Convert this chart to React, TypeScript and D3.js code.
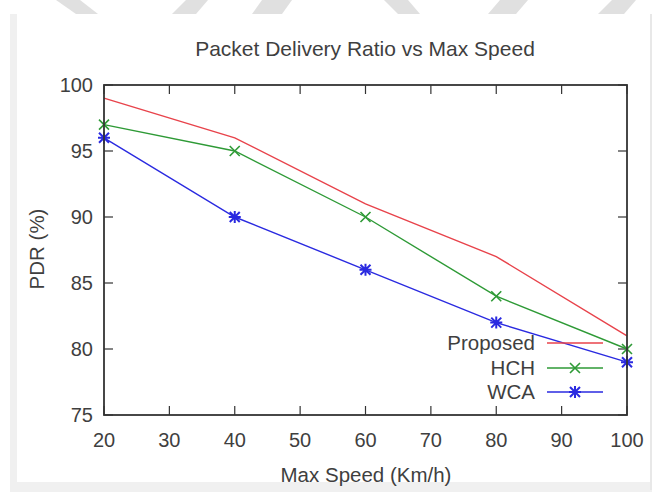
import React from "react";
import * as d3 from "d3";

const speeds = [20, 40, 60, 80, 100];
const proposed = [99, 96, 91, 87, 81];
const hch = [97, 95, 90, 84, 80];
const wca = [96, 90, 86, 82, 79];
const xTicks = [20, 30, 40, 50, 60, 70, 80, 90, 100];
const yTicks = [75, 80, 85, 90, 95, 100];

const W = 655;
const H = 494;
const M = { left: 104, right: 627, top: 85, bottom: 415 };

const FONT = "'Liberation Sans', Arial, sans-serif";
const TXT = "#3f3f3f";

const series = [
  { name: "Proposed", values: proposed, color: "#e8434b", marker: "none" },
  { name: "HCH", values: hch, color: "#2e9a36", marker: "cross" },
  { name: "WCA", values: wca, color: "#2a2ae0", marker: "star" },
];

function Marker({ type, x, y, color }: { type: string; x: number; y: number; color: string }) {
  const s = 5;
  if (type === "cross") {
    return (
      <path
        d={`M${x - s},${y - s}L${x + s},${y + s}M${x - s},${y + s}L${x + s},${y - s}`}
        stroke={color}
        strokeWidth={1.6}
      />
    );
  }
  if (type === "star") {
    return (
      <path
        d={`M${x - s},${y - s}L${x + s},${y + s}M${x - s},${y + s}L${x + s},${y - s}M${x - s - 1},${y}L${x + s + 1},${y}M${x},${y - s - 1}L${x},${y + s + 1}`}
        stroke={color}
        strokeWidth={2}
      />
    );
  }
  return null;
}

export default function App() {
  const x = d3.scaleLinear().domain([20, 100]).range([M.left, M.right]);
  const y = d3.scaleLinear().domain([75, 100]).range([M.bottom, M.top]);
  const line = d3
    .line<number>()
    .x((_, i) => x(speeds[i]))
    .y((d) => y(d));

  const tickLen = 9;
  const legendRows = [343, 368, 392];

  return (
    <svg
      width={W}
      height={H}
      style={{ position: "absolute", left: 0, top: 0, background: "#fff" }}
    >
      {/* page frame */}
      <rect x={0} y={0} width={W} height={H} fill="#fff" />
      <rect x={10} y={14} width={642} height={478} fill="#f0f0f0" />
      <rect x={17} y={14} width={633} height={468} fill="#fff" />
      <line x1={651} y1={14} x2={651} y2={490} stroke="#e6e6e6" strokeWidth={1.5} />
      {/* faint decorative shapes along the top strip */}
      <g fill="#e0e0e0">
        <polygon points="56,0 80,0 98,14 76,14" />
        <polygon points="186,0 208,0 196,14 172,14" />
        <polygon points="262,0 292,0 282,14 252,14" />
        <polygon points="384,0 408,0 420,14 398,14" />
        <polygon points="500,0 528,0 516,14 488,14" />
        <polygon points="612,0 636,0 624,14 598,14" />
      </g>

      {/* title */}
      <text
        x={365}
        y={56}
        textAnchor="middle"
        fontFamily={FONT}
        fontSize={21}
        fill={TXT}
      >
        Packet Delivery Ratio vs Max Speed
      </text>

      {/* ticks */}
      <g stroke="#333" strokeWidth={1.2}>
        {xTicks.map((t) => (
          <g key={"xt" + t}>
            <line x1={x(t)} x2={x(t)} y1={M.bottom} y2={M.bottom - tickLen} />
            <line x1={x(t)} x2={x(t)} y1={M.top} y2={M.top + tickLen} />
          </g>
        ))}
        {yTicks.map((t) => (
          <g key={"yt" + t}>
            <line x1={M.left} x2={M.left + tickLen} y1={y(t)} y2={y(t)} />
            <line x1={M.right} x2={M.right - tickLen} y1={y(t)} y2={y(t)} />
          </g>
        ))}
      </g>

      {/* tick labels */}
      <g fontFamily={FONT} fontSize={20} fill={TXT}>
        {xTicks.map((t) => (
          <text key={"xl" + t} x={x(t)} y={447} textAnchor="middle">
            {t}
          </text>
        ))}
        {yTicks.map((t) => (
          <text key={"yl" + t} x={M.left - 11} y={y(t) + 7} textAnchor="end">
            {t}
          </text>
        ))}
      </g>

      {/* axis titles */}
      <text
        x={366}
        y={482}
        textAnchor="middle"
        fontFamily={FONT}
        fontSize={20.5}
        fill={TXT}
      >
        Max Speed (Km/h)
      </text>
      <text
        transform={`translate(44,${249}) rotate(-90)`}
        textAnchor="middle"
        fontFamily={FONT}
        fontSize={20.5}
        fill={TXT}
      >
        PDR (%)
      </text>

      {/* series */}
      {series.map((s) => (
        <g key={s.name}>
          <path d={line(s.values) || ""} fill="none" stroke={s.color} strokeWidth={1.4} />
          {s.values.map((v, i) => (
            <Marker key={i} type={s.marker} x={x(speeds[i])} y={y(v)} color={s.color} />
          ))}
        </g>
      ))}

      {/* legend */}
      {series.map((s, i) => (
        <g key={"lg" + s.name}>
          <text
            x={535}
            y={legendRows[i] + 7}
            textAnchor="end"
            fontFamily={FONT}
            fontSize={20.5}
            fill={TXT}
          >
            {s.name}
          </text>
          <line x1={547} x2={603} y1={legendRows[i]} y2={legendRows[i]} stroke={s.color} strokeWidth={1.4} />
          <Marker type={s.marker} x={575} y={legendRows[i]} color={s.color} />
        </g>
      ))}

      {/* plot border */}
      <rect
        x={M.left}
        y={M.top}
        width={M.right - M.left}
        height={M.bottom - M.top}
        fill="none"
        stroke="#333"
        strokeWidth={1.8}
      />
    </svg>
  );
}
